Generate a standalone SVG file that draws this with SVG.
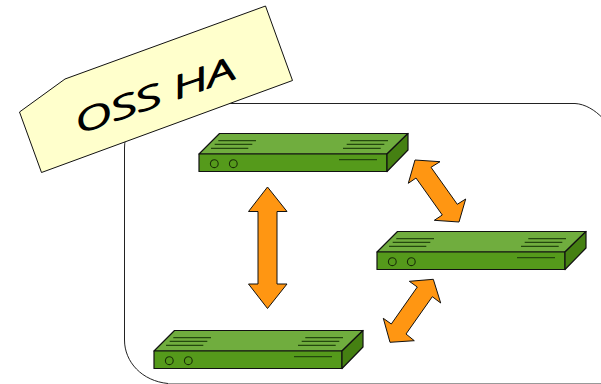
<svg xmlns="http://www.w3.org/2000/svg" width="601" height="384" viewBox="0 0 601 384">
<style>
.frame{fill:none;stroke:#222;stroke-width:1}
.edge{fill:none;stroke:#999;stroke-width:1}
.note{fill:#ffffcc;stroke:#111;stroke-width:1}
.label{font-family:"Open Sans","Noto Sans",sans-serif;font-weight:300;font-style:italic;font-size:31px;fill:#000;stroke:#000;stroke-width:1.300;stroke-linejoin:round}
.top{fill:#70ad3e;stroke:#111;stroke-width:1.2;stroke-linejoin:round}
.front{fill:#559a1b;stroke:#111;stroke-width:1.2;stroke-linejoin:round}
.side{fill:#458012;stroke:#111;stroke-width:1.2;stroke-linejoin:round}
.ln{stroke:#24480e;stroke-width:1.3;fill:none}
.port{fill:none;stroke:#1a3008;stroke-width:1.1}
.arrow{fill:#ff9612;stroke:#111;stroke-width:1;stroke-linejoin:miter}
</style>
<defs>
<g id="srv">
<polygon class="top" points="0,0 20.5,-20.5 209,-20.5 188,0"/>
<polygon class="front" points="0,0 188,0 188,17.5 0,17.5"/>
<polygon class="side" points="188,0 209,-20.5 209,-4 188,17.5"/>
<path class="ln" d="M19.3-13.3H57M15.7-9.7H53.3M12-5.7H49.3M151.3-13.3H189M147.7-9.7H185.3M144-5.7H181.7M140 5.700H178"/>
<circle class="port" cx="15.3" cy="9.7" r="3.900"/>
<circle class="port" cx="34.3" cy="9.7" r="3.900"/>
</g>
</defs>
<g id="frame">
<path class="frame" d="M124.500 340V148C124.500 122 147 103.500 172 103.500H575C585 104 595 110 603 118.500"/>
<path class="frame" d="M124.500 340C124.500 362 142 381 168 383.500"/>
<path class="edge" d="M168 383.500H601"/>
</g>
<g id="note">
<polygon class="note" points="19.500,112 65,79 265.500,6 292.500,80.500 41.500,172.500"/>
<text class="label" transform="translate(79,134) rotate(-19.500)" textLength="168" lengthAdjust="spacingAndGlyphs">OSS HA</text>
</g>
<g id="server-top"><use href="#srv" x="199" y="154"/></g>
<g id="server-right"><use href="#srv" x="377" y="252"/></g>
<g id="server-bottom"><use href="#srv" x="154" y="351"/></g>
<g id="connectors">
<polygon class="arrow" points="267.500,187 287,211.500 277,211.500 277,284 287,284 267.500,308.500 248.500,284 258,284 258,211.500 248.500,211.500"/>
<polygon class="arrow" points="415,160 440,161.700 431,167.300 457.300,204.300 465.700,199 459,222 434.300,220.300 442.300,215 416,178 408.300,183.300"/>
<polygon class="arrow" points="433.300,279.300 440.700,303 432.300,296.700 406,334 414.300,340.700 390,342.300 383.300,318.300 391.300,324 417.300,287 409.300,281.300"/>
</g>
</svg>
